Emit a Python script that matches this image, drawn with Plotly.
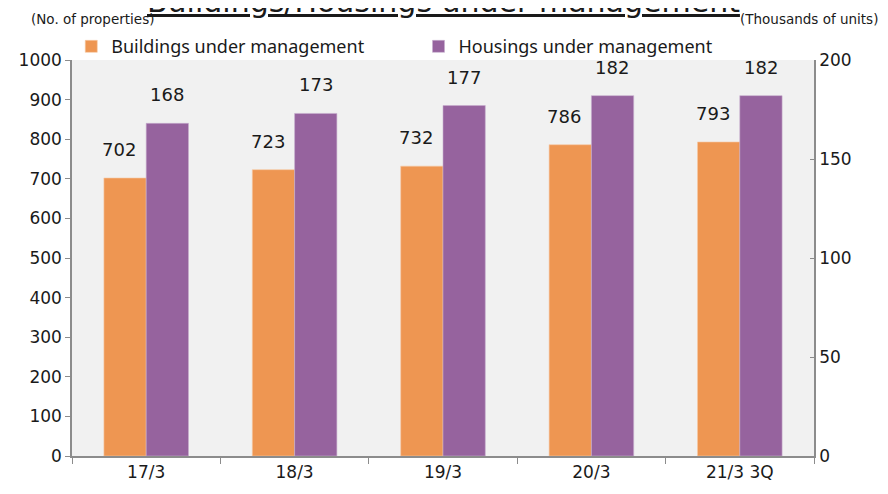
import plotly.graph_objects as go

# data
categories = ['17/3', '18/3', '19/3', '20/3', '21/3 3Q']
buildings = [702, 723, 732, 786, 793]   # No. of properties (left axis)
housings = [168, 173, 177, 182, 182]    # thousands of units (right axis)
left_ticks = list(range(0, 1001, 100))
right_ticks = list(range(0, 201, 50))

orange = '#EE9652'
purple = '#96639E'
axis_col = '#8c8c8c'
txt = '#1a1a1a'
num_font = 'DejaVu Sans'

fig = go.Figure()
fig.add_trace(go.Bar(
    x=categories, y=buildings, name='Buildings under management',
    marker=dict(color=orange, line=dict(color='#f6c9a4', width=0.6)),
    offsetgroup='b', yaxis='y', legend='legend', hoverinfo='x+y'
))
fig.add_trace(go.Bar(
    x=categories, y=housings, name='Housings under management',
    marker=dict(color=purple, line=dict(color='#c8aece', width=0.6)),
    offsetgroup='h', yaxis='y2', legend='legend2', hoverinfo='x+y'
))

# value labels above bars
annots = []
for c, v in zip(categories, buildings):
    annots.append(dict(x=c, y=v, xref='x', yref='y', text=str(v), showarrow=False,
                       xshift=-27, yshift=16, yanchor='bottom',
                       font=dict(family=num_font, size=18, color=txt)))
for c, v in zip(categories, housings):
    annots.append(dict(x=c, y=v, xref='x', yref='y2', text=str(v), showarrow=False,
                       xshift=21, yshift=16, yanchor='bottom',
                       font=dict(family=num_font, size=18, color=txt)))

# title (cut at the top edge) and axis unit notes
annots.append(dict(x=0.5, y=1, xref='paper', yref='paper', yanchor='bottom', yshift=39,
                   text='<u>Buildings/Housings under management</u>', showarrow=False,
                   font=dict(family=num_font, size=30, color=txt)))
annots.append(dict(x=0, y=1, xref='paper', yref='paper', xanchor='left', yanchor='middle',
                   xshift=-43, yshift=41, text='(No. of properties)', showarrow=False,
                   font=dict(family=num_font, size=13.5, color=txt)))
annots.append(dict(x=1, y=1, xref='paper', yref='paper', xanchor='right', yanchor='middle',
                   xshift=66, yshift=41, text='(Thousands of units)', showarrow=False,
                   font=dict(family=num_font, size=13.5, color=txt)))

leg = dict(orientation='h', xanchor='left', y=0.987, yanchor='bottom',
           itemwidth=30, font=dict(family='Noto Sans', size=18, color=txt),
           bgcolor='rgba(0,0,0,0)')

# the page adds an 8px body margin, so the figure is sized to fit inside the window
fig.update_layout(
    width=872, height=478,
    margin=dict(l=64, r=66, t=52, b=30),
    paper_bgcolor='white', plot_bgcolor='#f1f1f1',
    barmode='group', bargap=0.43, bargroupgap=0,
    showlegend=True,
    legend=dict(leg, x=-0.001),
    legend2=dict(leg, x=0.467),
    xaxis=dict(type='category', tickson='boundaries', ticks='outside', ticklen=6,
               tickcolor=axis_col, showline=True, linecolor=axis_col, linewidth=1.5,
               showgrid=False, automargin=False,
               tickfont=dict(family=num_font, size=17, color=txt)),
    yaxis=dict(range=[0, 1000], tickvals=left_ticks, ticks='outside', ticklen=5,
               tickcolor=axis_col, showline=True, linecolor=axis_col, linewidth=1.5,
               showgrid=False, zeroline=False, automargin=False,
               tickfont=dict(family=num_font, size=17, color=txt)),
    yaxis2=dict(range=[0, 200], tickvals=right_ticks, overlaying='y', side='right',
                ticks='inside', ticklen=4, tickcolor=axis_col, showline=True,
                linecolor=axis_col, linewidth=1.5, showgrid=False, zeroline=False,
                automargin=False, tickfont=dict(family=num_font, size=17, color=txt)),
    annotations=annots,
)

fig.write_html('out.html')
